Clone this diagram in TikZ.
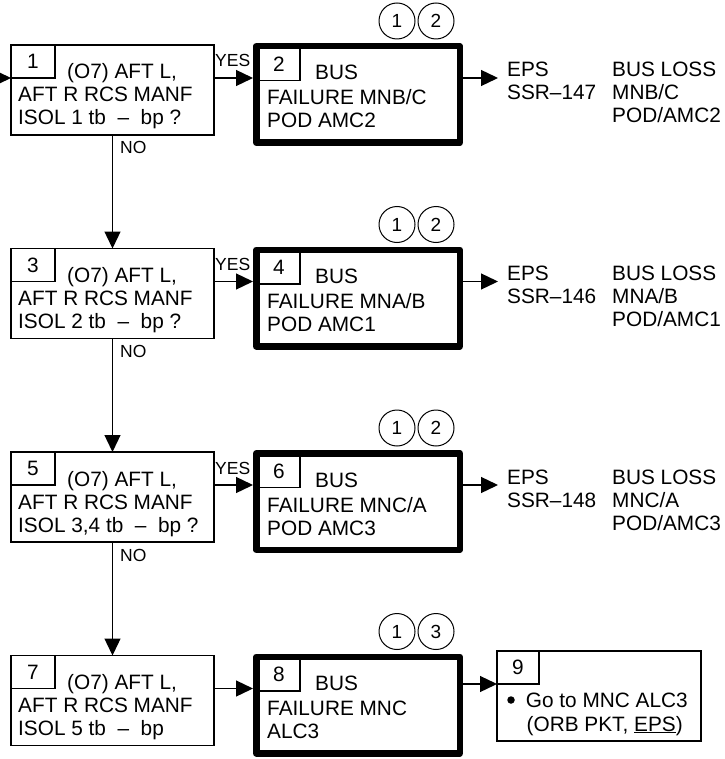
\documentclass[tikz,border=0pt]{standalone}
\usepackage{fontspec}
\setmainfont{Liberation Sans}
\usetikzlibrary{arrows.meta}
\tikzset{
 thinbox/.style={draw, line width=1.3pt, inner sep=0pt, outer sep=0pt},
 thickbox/.style={draw, line width=6.5pt, line join=round, inner sep=0pt},
 numbox/.style={draw, line width=1.3pt, inner sep=0pt, outer sep=0pt, font=\fontsize{20.8}{23}\selectfont},
 lbl/.style={inner sep=0pt, anchor=base west, font=\fontsize{20.8}{23}\selectfont},
 smalllbl/.style={inner sep=0pt, anchor=base west, font=\fontsize{17.5}{20}\selectfont},
 refc/.style={draw, circle, line width=1pt, minimum size=36pt, inner sep=0pt, font=\fontsize{19}{20}\selectfont},
 arr/.style={line width=1.3pt, -{Triangle[length=17pt,width=16pt]}},
 bulletdot/.style={circle, fill, inner sep=0pt, minimum size=7.5pt},
}
\newcommand{\decrow}[9]{%
 \begin{scope}[yshift=-#1pt]
 \node[thinbox, minimum width=203pt, minimum height=90pt] (b#2) at (112.5,-90) {};
 \node[numbox, minimum width=44pt, minimum height=33pt] (n#2) at (33,-61.5) {#2};
 \node[lbl] (t#2a) at (67,-79) {(O7) AFT L,};
 \node[lbl] (t#2b) at (18,-102) {AFT R RCS MANF};
 \node[lbl] (t#2c) at (18,-125) {#4};
 \node[thickbox, minimum width=203.5pt, minimum height=96.5pt] (b#3) at (358,-94.5) {};
 \node[numbox, minimum width=42pt, minimum height=32.5pt] (n#3) at (279,-64.25) {#3};
 \node[lbl] (t#3a) at (315,-80) {BUS};
 \node[lbl] (t#3b) at (267,-105) {FAILURE #5};
 \node[lbl] (t#3c) at (267,-128) {#6};
 \node[refc] (c#3a) at (397,-21) {1};
 \node[refc] (c#3b) at (436,-21) {2};
 \node[smalllbl] (yes#2) at (215,-67) {YES};
 \node[smalllbl] (no#2) at (120,-154) {NO};
 \draw[arr] (b#2.east |- n#2.south) -- (b#3.west |- n#2.south);
 \coordinate (o#3) at (498,-78);
 \draw[arr] (b#3.east |- o#3) -- (o#3);
 \node[lbl] (e#3a) at (507,-77) {EPS};
 \node[lbl] (e#3b) at (507,-100) {SSR–#7};
 \node[lbl] (l#3a) at (612,-77) {BUS LOSS};
 \node[lbl] (l#3b) at (612,-100) {#8};
 \node[lbl] (l#3c) at (612,-123) {#9};
 \end{scope}}
\begin{document}
\begin{tikzpicture}[x=1pt,y=1pt]
\useasboundingbox (0,0) rectangle (724,-759);
\decrow{0}{1}{2}{ISOL 1 tb\ \ –\ \ bp ?}{MNB/C}{POD AMC2}{147}{MNB/C}{POD/AMC2}
\decrow{203.5}{3}{4}{ISOL 2 tb\ \ –\ \ bp ?}{MNA/B}{POD AMC1}{146}{MNA/B}{POD/AMC1}
\decrow{407}{5}{6}{ISOL 3,4 tb\ \ –\ \ bp ?}{MNC/A}{POD AMC3}{148}{MNC/A}{POD/AMC3}
\begin{scope}[yshift=-610.5pt]
 \node[thinbox, minimum width=203pt, minimum height=90pt] (b7) at (112.5,-90) {};
 \node[numbox, minimum width=44pt, minimum height=33pt] (n7) at (33,-61.5) {7};
 \node[lbl] (t7a) at (67,-79) {(O7) AFT L,};
 \node[lbl] (t7b) at (18,-102) {AFT R RCS MANF};
 \node[lbl] (t7c) at (18,-125) {ISOL 5 tb\ \ –\ \ bp};
 \node[thickbox, minimum width=203.5pt, minimum height=96.5pt] (b8) at (358,-94.5) {};
 \node[numbox, minimum width=42pt, minimum height=32.5pt] (n8) at (279,-64.25) {8};
 \node[lbl] (t8a) at (315,-80) {BUS};
 \node[lbl] (t8b) at (267,-105) {FAILURE MNC};
 \node[lbl] (t8c) at (267,-128) {ALC3};
 \node[refc] (c8a) at (397,-21) {1};
 \node[refc] (c8b) at (436,-21) {3};
 \draw[arr] (b7.east |- n7.south) -- (b8.west |- n7.south);
 \node[thinbox, minimum width=204pt, minimum height=90pt] (b9) at (599,-85.5) {};
 \node[numbox, minimum width=42pt, minimum height=33pt] (n9) at (518,-57) {9};
 \draw[arr] (b8.east |- n9.south) -- (b9.west |- n9.south);
 \node[bulletdot] (bul) at (511,-89.5) {};
 \node[lbl] (g1) at (525.7,-96.5) {Go to MNC ALC3};
 \node[lbl] (g2) at (526.5,-120.5) {(ORB PKT, \underline{EPS})};
\end{scope}
\coordinate (in1) at (-12,-78);
\draw[arr] (in1) -- (b1.west |- n1.south);
\draw[arr] (b1.south) -- (b3.north);
\draw[arr] (b3.south) -- (b5.north);
\draw[arr] (b5.south) -- (b7.north);
\end{tikzpicture}
\end{document}
